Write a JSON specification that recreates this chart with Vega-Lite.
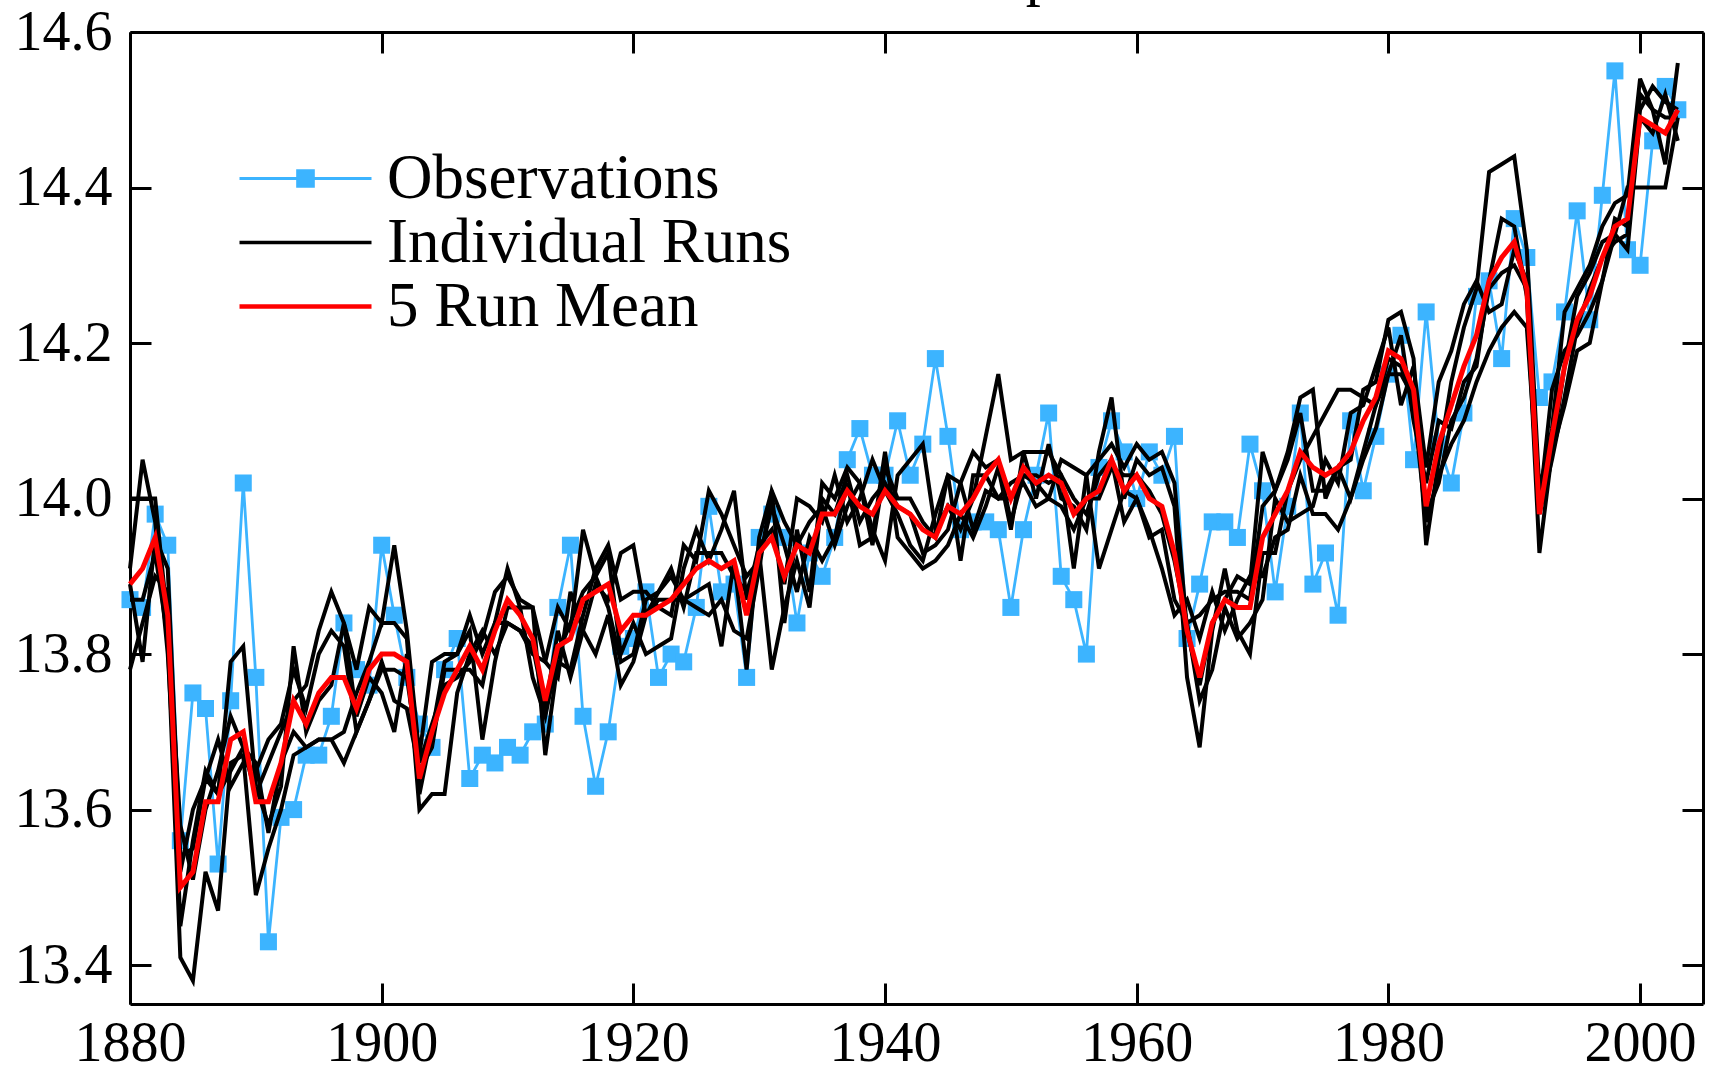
{
"$schema": "https://vega.github.io/schema/vega-lite/v6.json",
"width": 1573, "height": 972,
"autosize": {"type": "none"},
"padding": {"left": 130, "top": 32, "right": 13, "bottom": 66},
"background": "white",
"config": {"view": {"stroke": null}, "font": "Liberation Serif"},
"title": {"text": "Global Temperature", "font": "Liberation Serif", "fontSize": 60, "fontWeight": "normal", "color": "black", "anchor": "middle", "baseline": "alphabetic", "offset": 4, "dx": 66, "dy": 54},
"data": {"values": [
{"year":1880,"obs":13.87,"mean":13.89,"r1":13.78,"r2":13.87,"r3":14.00,"r4":13.91,"r5":13.89},
{"year":1881,"obs":13.86,"mean":13.91,"r1":13.84,"r2":13.87,"r3":14.00,"r4":14.05,"r5":13.79},
{"year":1882,"obs":13.98,"mean":13.95,"r1":13.90,"r2":13.93,"r3":14.00,"r4":13.97,"r5":13.95},
{"year":1883,"obs":13.94,"mean":13.85,"r1":13.88,"r2":13.82,"r3":13.84,"r4":13.80,"r5":13.91},
{"year":1884,"obs":13.56,"mean":13.50,"r1":13.45,"r2":13.41,"r3":13.58,"r4":13.52,"r5":13.54},
{"year":1885,"obs":13.75,"mean":13.52,"r1":13.56,"r2":13.38,"r3":13.51,"r4":13.60,"r5":13.55},
{"year":1886,"obs":13.73,"mean":13.61,"r1":13.65,"r2":13.52,"r3":13.60,"r4":13.64,"r5":13.64},
{"year":1887,"obs":13.53,"mean":13.61,"r1":13.62,"r2":13.47,"r3":13.65,"r4":13.69,"r5":13.62},
{"year":1888,"obs":13.74,"mean":13.69,"r1":13.79,"r2":13.66,"r3":13.72,"r4":13.63,"r5":13.65},
{"year":1889,"obs":14.02,"mean":13.70,"r1":13.81,"r2":13.67,"r3":13.68,"r4":13.66,"r5":13.68},
{"year":1890,"obs":13.77,"mean":13.61,"r1":13.63,"r2":13.49,"r3":13.62,"r4":13.65,"r5":13.66},
{"year":1891,"obs":13.43,"mean":13.61,"r1":13.58,"r2":13.55,"r3":13.66,"r4":13.69,"r5":13.57},
{"year":1892,"obs":13.59,"mean":13.66,"r1":13.63,"r2":13.60,"r3":13.70,"r4":13.71,"r5":13.66},
{"year":1893,"obs":13.60,"mean":13.74,"r1":13.81,"r2":13.67,"r3":13.74,"r4":13.78,"r5":13.70},
{"year":1894,"obs":13.67,"mean":13.71,"r1":13.70,"r2":13.68,"r3":13.76,"r4":13.73,"r5":13.68},
{"year":1895,"obs":13.67,"mean":13.75,"r1":13.74,"r2":13.69,"r3":13.83,"r4":13.80,"r5":13.69},
{"year":1896,"obs":13.72,"mean":13.77,"r1":13.76,"r2":13.69,"r3":13.88,"r4":13.83,"r5":13.69},
{"year":1897,"obs":13.84,"mean":13.77,"r1":13.84,"r2":13.70,"r3":13.84,"r4":13.81,"r5":13.66},
{"year":1898,"obs":13.78,"mean":13.73,"r1":13.72,"r2":13.75,"r3":13.78,"r4":13.70,"r5":13.70},
{"year":1899,"obs":13.76,"mean":13.78,"r1":13.77,"r2":13.79,"r3":13.86,"r4":13.74,"r5":13.74},
{"year":1900,"obs":13.94,"mean":13.80,"r1":13.75,"r2":13.84,"r3":13.84,"r4":13.78,"r5":13.79},
{"year":1901,"obs":13.85,"mean":13.80,"r1":13.70,"r2":13.84,"r3":13.94,"r4":13.78,"r5":13.74},
{"year":1902,"obs":13.77,"mean":13.79,"r1":13.80,"r2":13.82,"r3":13.83,"r4":13.77,"r5":13.73},
{"year":1903,"obs":13.71,"mean":13.64,"r1":13.60,"r2":13.62,"r3":13.67,"r4":13.66,"r5":13.65},
{"year":1904,"obs":13.68,"mean":13.70,"r1":13.62,"r2":13.70,"r3":13.79,"r4":13.71,"r5":13.68},
{"year":1905,"obs":13.78,"mean":13.75,"r1":13.62,"r2":13.79,"r3":13.80,"r4":13.76,"r5":13.78},
{"year":1906,"obs":13.82,"mean":13.78,"r1":13.75,"r2":13.80,"r3":13.80,"r4":13.77,"r5":13.78},
{"year":1907,"obs":13.64,"mean":13.81,"r1":13.80,"r2":13.85,"r3":13.83,"r4":13.79,"r5":13.78},
{"year":1908,"obs":13.67,"mean":13.78,"r1":13.83,"r2":13.80,"r3":13.69,"r4":13.82,"r5":13.76},
{"year":1909,"obs":13.66,"mean":13.83,"r1":13.80,"r2":13.84,"r3":13.79,"r4":13.88,"r5":13.84},
{"year":1910,"obs":13.68,"mean":13.87,"r1":13.84,"r2":13.91,"r3":13.86,"r4":13.90,"r5":13.84},
{"year":1911,"obs":13.67,"mean":13.85,"r1":13.83,"r2":13.86,"r3":13.86,"r4":13.87,"r5":13.83},
{"year":1912,"obs":13.70,"mean":13.82,"r1":13.80,"r2":13.86,"r3":13.77,"r4":13.86,"r5":13.81},
{"year":1913,"obs":13.71,"mean":13.74,"r1":13.79,"r2":13.67,"r3":13.72,"r4":13.79,"r5":13.73},
{"year":1914,"obs":13.86,"mean":13.81,"r1":13.86,"r2":13.79,"r3":13.80,"r4":13.77,"r5":13.83},
{"year":1915,"obs":13.94,"mean":13.82,"r1":13.83,"r2":13.78,"r3":13.84,"r4":13.88,"r5":13.77},
{"year":1916,"obs":13.72,"mean":13.87,"r1":13.96,"r2":13.85,"r3":13.88,"r4":13.83,"r5":13.83},
{"year":1917,"obs":13.63,"mean":13.88,"r1":13.90,"r2":13.91,"r3":13.90,"r4":13.80,"r5":13.89},
{"year":1918,"obs":13.70,"mean":13.89,"r1":13.86,"r2":13.94,"r3":13.93,"r4":13.85,"r5":13.87},
{"year":1919,"obs":13.81,"mean":13.83,"r1":13.79,"r2":13.87,"r3":13.80,"r4":13.76,"r5":13.93},
{"year":1920,"obs":13.82,"mean":13.85,"r1":13.80,"r2":13.88,"r3":13.84,"r4":13.79,"r5":13.94},
{"year":1921,"obs":13.88,"mean":13.85,"r1":13.87,"r2":13.88,"r3":13.80,"r4":13.85,"r5":13.85},
{"year":1922,"obs":13.77,"mean":13.86,"r1":13.88,"r2":13.86,"r3":13.81,"r4":13.88,"r5":13.87},
{"year":1923,"obs":13.80,"mean":13.87,"r1":13.90,"r2":13.85,"r3":13.82,"r4":13.91,"r5":13.87},
{"year":1924,"obs":13.79,"mean":13.89,"r1":13.87,"r2":13.94,"r3":13.91,"r4":13.86,"r5":13.87},
{"year":1925,"obs":13.86,"mean":13.91,"r1":13.88,"r2":13.92,"r3":13.96,"r4":13.93,"r5":13.86},
{"year":1926,"obs":13.99,"mean":13.92,"r1":13.89,"r2":14.01,"r3":13.92,"r4":13.93,"r5":13.85},
{"year":1927,"obs":13.88,"mean":13.91,"r1":13.81,"r2":13.98,"r3":13.96,"r4":13.93,"r5":13.87},
{"year":1928,"obs":13.89,"mean":13.92,"r1":13.92,"r2":13.94,"r3":14.01,"r4":13.90,"r5":13.83},
{"year":1929,"obs":13.77,"mean":13.85,"r1":13.78,"r2":13.90,"r3":13.87,"r4":13.88,"r5":13.82},
{"year":1930,"obs":13.95,"mean":13.93,"r1":13.95,"r2":13.92,"r3":13.94,"r4":13.93,"r5":13.91},
{"year":1931,"obs":13.98,"mean":13.95,"r1":14.01,"r2":13.99,"r3":13.96,"r4":13.78,"r5":14.01},
{"year":1932,"obs":13.95,"mean":13.90,"r1":13.84,"r2":13.94,"r3":13.89,"r4":13.86,"r5":13.97},
{"year":1933,"obs":13.84,"mean":13.94,"r1":13.96,"r2":13.88,"r3":14.00,"r4":13.92,"r5":13.94},
{"year":1934,"obs":13.93,"mean":13.93,"r1":13.88,"r2":13.95,"r3":13.99,"r4":13.86,"r5":13.97},
{"year":1935,"obs":13.90,"mean":13.98,"r1":14.02,"r2":13.92,"r3":13.97,"r4":14.00,"r5":13.99},
{"year":1936,"obs":13.95,"mean":13.98,"r1":14.00,"r2":13.95,"r3":14.03,"r4":13.98,"r5":13.94},
{"year":1937,"obs":14.05,"mean":14.01,"r1":14.04,"r2":14.02,"r3":13.97,"r4":14.03,"r5":13.99},
{"year":1938,"obs":14.09,"mean":13.99,"r1":14.02,"r2":13.94,"r3":14.00,"r4":13.97,"r5":14.02},
{"year":1939,"obs":14.03,"mean":13.98,"r1":13.96,"r2":13.95,"r3":14.05,"r4":14.00,"r5":13.94},
{"year":1940,"obs":14.03,"mean":14.01,"r1":13.92,"r2":14.06,"r3":14.01,"r4":14.02,"r5":14.04},
{"year":1941,"obs":14.10,"mean":13.99,"r1":14.03,"r2":13.95,"r3":13.98,"r4":13.99,"r5":14.00},
{"year":1942,"obs":14.03,"mean":13.98,"r1":14.05,"r2":13.93,"r3":13.94,"r4":13.98,"r5":14.00},
{"year":1943,"obs":14.07,"mean":13.96,"r1":14.07,"r2":13.91,"r3":13.92,"r4":13.93,"r5":13.97},
{"year":1944,"obs":14.18,"mean":13.95,"r1":13.96,"r2":13.92,"r3":13.98,"r4":13.94,"r5":13.95},
{"year":1945,"obs":14.08,"mean":13.99,"r1":13.99,"r2":13.94,"r3":14.03,"r4":13.96,"r5":14.03},
{"year":1946,"obs":13.96,"mean":13.98,"r1":13.96,"r2":13.98,"r3":13.92,"r4":14.02,"r5":14.02},
{"year":1947,"obs":13.97,"mean":14.00,"r1":14.00,"r2":13.95,"r3":14.03,"r4":14.06,"r5":13.96},
{"year":1948,"obs":13.97,"mean":14.03,"r1":14.08,"r2":13.99,"r3":14.03,"r4":14.04,"r5":14.01},
{"year":1949,"obs":13.96,"mean":14.05,"r1":14.16,"r2":14.04,"r3":14.00,"r4":14.05,"r5":14.00},
{"year":1950,"obs":13.86,"mean":14.00,"r1":14.05,"r2":13.96,"r3":14.00,"r4":13.97,"r5":14.02},
{"year":1951,"obs":13.96,"mean":14.04,"r1":14.06,"r2":14.06,"r3":14.02,"r4":14.03,"r5":14.03},
{"year":1952,"obs":14.03,"mean":14.02,"r1":14.06,"r2":14.00,"r3":13.99,"r4":14.03,"r5":14.02},
{"year":1953,"obs":14.11,"mean":14.03,"r1":14.06,"r2":14.07,"r3":14.00,"r4":14.02,"r5":14.00},
{"year":1954,"obs":13.90,"mean":14.02,"r1":14.03,"r2":14.00,"r3":14.05,"r4":14.03,"r5":13.99},
{"year":1955,"obs":13.87,"mean":13.98,"r1":13.91,"r2":13.99,"r3":14.04,"r4":14.00,"r5":13.96},
{"year":1956,"obs":13.80,"mean":14.00,"r1":14.03,"r2":13.96,"r3":14.03,"r4":13.98,"r5":14.00},
{"year":1957,"obs":14.04,"mean":14.01,"r1":14.05,"r2":14.06,"r3":13.91,"r4":14.03,"r5":14.00},
{"year":1958,"obs":14.10,"mean":14.05,"r1":14.07,"r2":14.13,"r3":13.96,"r4":14.05,"r5":14.04},
{"year":1959,"obs":14.06,"mean":14.01,"r1":14.04,"r2":14.00,"r3":14.01,"r4":13.97,"r5":14.03},
{"year":1960,"obs":14.00,"mean":14.03,"r1":14.07,"r2":14.05,"r3":14.00,"r4":14.00,"r5":14.03},
{"year":1961,"obs":14.06,"mean":14.00,"r1":14.05,"r2":14.03,"r3":13.95,"r4":13.96,"r5":14.01},
{"year":1962,"obs":14.03,"mean":13.99,"r1":14.06,"r2":14.04,"r3":13.96,"r4":13.91,"r5":13.98},
{"year":1963,"obs":14.08,"mean":13.93,"r1":14.02,"r2":13.99,"r3":13.87,"r4":13.85,"r5":13.92},
{"year":1964,"obs":13.82,"mean":13.83,"r1":13.83,"r2":13.77,"r3":13.84,"r4":13.87,"r5":13.84},
{"year":1965,"obs":13.89,"mean":13.77,"r1":13.76,"r2":13.68,"r3":13.74,"r4":13.82,"r5":13.85},
{"year":1966,"obs":13.97,"mean":13.84,"r1":13.84,"r2":13.83,"r3":13.78,"r4":13.88,"r5":13.87},
{"year":1967,"obs":13.97,"mean":13.87,"r1":13.87,"r2":13.91,"r3":13.86,"r4":13.83,"r5":13.88},
{"year":1968,"obs":13.95,"mean":13.86,"r1":13.90,"r2":13.83,"r3":13.82,"r4":13.87,"r5":13.88},
{"year":1969,"obs":14.07,"mean":13.86,"r1":13.89,"r2":13.80,"r3":13.84,"r4":13.90,"r5":13.87},
{"year":1970,"obs":14.01,"mean":13.95,"r1":14.06,"r2":13.93,"r3":13.87,"r4":13.90,"r5":13.99},
{"year":1971,"obs":13.88,"mean":13.98,"r1":14.01,"r2":13.93,"r3":14.00,"r4":13.95,"r5":14.01},
{"year":1972,"obs":13.99,"mean":14.01,"r1":14.06,"r2":14.01,"r3":13.97,"r4":13.96,"r5":14.05},
{"year":1973,"obs":14.11,"mean":14.06,"r1":14.13,"r2":14.05,"r3":13.98,"r4":14.03,"r5":14.11},
{"year":1974,"obs":13.89,"mean":14.04,"r1":14.14,"r2":14.08,"r3":13.99,"r4":13.98,"r5":14.01},
{"year":1975,"obs":13.93,"mean":14.03,"r1":14.00,"r2":14.11,"r3":14.05,"r4":13.98,"r5":14.01},
{"year":1976,"obs":13.85,"mean":14.04,"r1":14.04,"r2":14.14,"r3":14.02,"r4":13.96,"r5":14.04},
{"year":1977,"obs":14.10,"mean":14.06,"r1":14.05,"r2":14.14,"r3":14.11,"r4":14.00,"r5":14.00},
{"year":1978,"obs":14.01,"mean":14.10,"r1":14.14,"r2":14.13,"r3":14.12,"r4":14.05,"r5":14.06},
{"year":1979,"obs":14.08,"mean":14.13,"r1":14.15,"r2":14.12,"r3":14.17,"r4":14.09,"r5":14.12},
{"year":1980,"obs":14.16,"mean":14.19,"r1":14.23,"r2":14.16,"r3":14.22,"r4":14.16,"r5":14.18},
{"year":1981,"obs":14.21,"mean":14.18,"r1":14.24,"r2":14.21,"r3":14.12,"r4":14.16,"r5":14.17},
{"year":1982,"obs":14.05,"mean":14.14,"r1":14.18,"r2":14.10,"r3":14.17,"r4":14.13,"r5":14.12},
{"year":1983,"obs":14.24,"mean":13.99,"r1":13.94,"r2":14.02,"r3":14.04,"r4":13.98,"r5":13.97},
{"year":1984,"obs":14.07,"mean":14.07,"r1":14.05,"r2":14.10,"r3":14.15,"r4":14.02,"r5":14.03},
{"year":1985,"obs":14.02,"mean":14.12,"r1":14.15,"r2":14.09,"r3":14.19,"r4":14.10,"r5":14.07},
{"year":1986,"obs":14.11,"mean":14.17,"r1":14.22,"r2":14.15,"r3":14.25,"r4":14.13,"r5":14.10},
{"year":1987,"obs":14.26,"mean":14.21,"r1":14.27,"r2":14.17,"r3":14.28,"r4":14.18,"r5":14.15},
{"year":1988,"obs":14.28,"mean":14.28,"r1":14.42,"r2":14.28,"r3":14.24,"r4":14.27,"r5":14.19},
{"year":1989,"obs":14.18,"mean":14.31,"r1":14.43,"r2":14.36,"r3":14.25,"r4":14.29,"r5":14.22},
{"year":1990,"obs":14.36,"mean":14.33,"r1":14.44,"r2":14.35,"r3":14.32,"r4":14.30,"r5":14.24},
{"year":1991,"obs":14.31,"mean":14.27,"r1":14.32,"r2":14.26,"r3":14.28,"r4":14.27,"r5":14.22},
{"year":1992,"obs":14.13,"mean":13.98,"r1":14.01,"r2":13.93,"r3":13.99,"r4":13.98,"r5":13.99},
{"year":1993,"obs":14.15,"mean":14.08,"r1":14.09,"r2":14.06,"r3":14.14,"r4":14.05,"r5":14.06},
{"year":1994,"obs":14.24,"mean":14.17,"r1":14.24,"r2":14.17,"r3":14.19,"r4":14.13,"r5":14.12},
{"year":1995,"obs":14.37,"mean":14.23,"r1":14.27,"r2":14.26,"r3":14.21,"r4":14.22,"r5":14.19},
{"year":1996,"obs":14.23,"mean":14.26,"r1":14.30,"r2":14.29,"r3":14.24,"r4":14.27,"r5":14.20},
{"year":1997,"obs":14.39,"mean":14.31,"r1":14.35,"r2":14.33,"r3":14.28,"r4":14.31,"r5":14.28},
{"year":1998,"obs":14.55,"mean":14.35,"r1":14.38,"r2":14.34,"r3":14.36,"r4":14.33,"r5":14.34},
{"year":1999,"obs":14.32,"mean":14.36,"r1":14.39,"r2":14.32,"r3":14.35,"r4":14.34,"r5":14.40},
{"year":2000,"obs":14.30,"mean":14.49,"r1":14.54,"r2":14.49,"r3":14.50,"r4":14.52,"r5":14.40},
{"year":2001,"obs":14.46,"mean":14.48,"r1":14.50,"r2":14.47,"r3":14.53,"r4":14.50,"r5":14.40},
{"year":2002,"obs":14.53,"mean":14.47,"r1":14.43,"r2":14.52,"r3":14.51,"r4":14.49,"r5":14.40},
{"year":2003,"obs":14.50,"mean":14.50,"r1":14.56,"r2":14.46,"r3":14.50,"r4":14.49,"r5":14.49}
]},
"resolve": {"axis": {"x": "independent", "y": "independent"}, "scale": {"x": "shared", "y": "shared"}},
"layer": [
{
"mark": {"type": "line", "strokeWidth": 2.8, "strokeJoin": "miter"},
"encoding": {
"x": {"field": "year", "type": "quantitative",
"scale": {"domain": [1880, 2005], "nice": false, "zero": false},
"axis": {"orient": "bottom", "title": null, "values": [1880,1900,1920,1940,1960,1980,2000], "format": "d", "grid": false,
"labelFont": "Liberation Serif", "labelFontSize": 56, "labelColor": "black", "labelFlush": false, "labelOverlap": false,
"tickSize": -21, "tickWidth": 3, "tickColor": "black", "domainWidth": 3, "domainColor": "black", "labelPadding": 33}},
"y": {"field": "obs", "type": "quantitative",
"scale": {"domain": [13.35, 14.6], "nice": false, "zero": false},
"axis": {"orient": "left", "title": null, "values": [13.4,13.6,13.8,14.0,14.2,14.4,14.6], "format": ".1f", "grid": false,
"labelFont": "Liberation Serif", "labelFontSize": 56, "labelColor": "black", "labelFlush": false, "labelOverlap": false,
"tickSize": -21, "tickWidth": 3, "tickColor": "black", "domainWidth": 3, "domainColor": "black", "labelPadding": 39}},
"color": {"datum": "Observations", "type": "nominal",
"scale": {"domain": ["Observations", "Individual Runs", "5 Run Mean"], "range": ["#3cb4ff", "#000000", "#ff0000"]},
"legend": {"orient": "none", "legendX": 107, "legendY": 115, "title": null, "padding": 0,
"labelFont": "Liberation Serif", "labelFontSize": 63, "labelColor": "black", "labelOffset": 50, "symbolOffset": 37, "labelLimit": 0, "rowPadding": -2,
"symbolSize": 17424, "symbolStrokeWidth": 3,
"encode": {"symbols": {"update": {
"shape": {"signal": "datum.value === 'Observations' ? 'M-1,0H1M-0.12,-0.12H0.12V0.12H-0.12Z' : 'M-1,0H1'"},
"fill": {"signal": "datum.value === 'Observations' ? '#3cb4ff' : 'transparent'"},
"stroke": {"signal": "datum.value === 'Observations' ? '#3cb4ff' : (datum.value === '5 Run Mean' ? '#ff0000' : '#000000')"},
"strokeWidth": {"signal": "datum.value === '5 Run Mean' ? 4.5 : (datum.value === 'Observations' ? 2.8 : 3.5)"},
"opacity": {"value": 1}
}}}}}
}
},
{
"mark": {"type": "point", "shape": "square", "filled": true, "size": 290, "opacity": 1},
"encoding": {
"x": {"field": "year", "type": "quantitative",
"axis": {"orient": "top", "title": null, "values": [1880,1900,1920,1940,1960,1980,2000], "labels": false, "grid": false,
"tickSize": -21, "tickWidth": 3, "tickColor": "black", "domainWidth": 3, "domainColor": "black"}},
"y": {"field": "obs", "type": "quantitative",
"axis": {"orient": "right", "title": null, "values": [13.4,13.6,13.8,14.0,14.2,14.4,14.6], "labels": false, "grid": false,
"tickSize": -21, "tickWidth": 3, "tickColor": "black", "domainWidth": 3, "domainColor": "black"}},
"color": {"datum": "Observations", "type": "nominal"}
}
},
{
"transform": [{"fold": ["r1", "r2", "r3", "r4", "r5"], "as": ["run", "temp"]}],
"mark": {"type": "line", "strokeWidth": 4, "strokeJoin": "miter"},
"encoding": {
"x": {"field": "year", "type": "quantitative", "axis": null},
"y": {"field": "temp", "type": "quantitative", "axis": null},
"detail": {"field": "run", "type": "nominal"},
"color": {"datum": "Individual Runs", "type": "nominal"}
}
},
{
"mark": {"type": "line", "strokeWidth": 5, "strokeJoin": "miter"},
"encoding": {
"x": {"field": "year", "type": "quantitative", "axis": null},
"y": {"field": "mean", "type": "quantitative", "axis": null},
"color": {"datum": "5 Run Mean", "type": "nominal"}
}
}
]
}
